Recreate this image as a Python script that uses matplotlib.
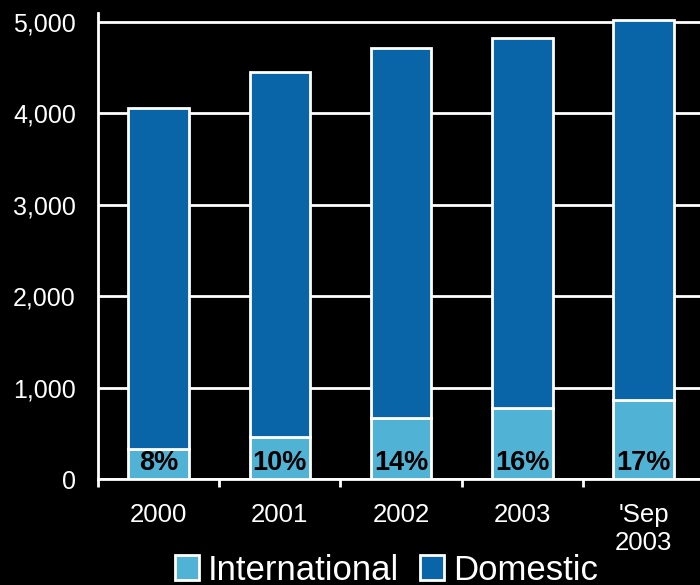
import matplotlib
matplotlib.use("Agg")
import matplotlib.pyplot as plt
import numpy as np

plt.rcParams['font.family'] = ['Liberation Sans', 'DejaVu Sans']

categories = ["2000", "2001", "2002", "2003", "'Sep\n2003"]
international = [327, 458, 666, 775, 862]
domestic = [3734, 3996, 4050, 4050, 4160]
share_labels = ["8%", "10%", "14%", "16%", "17%"]

DOM_COLOR = "#0A64A8"
INTL_COLOR = "#50B2D4"

fig = plt.figure(figsize=(7, 5.85), dpi=100, facecolor="black")
ax = fig.add_axes([0.14, 0.181, 0.866, 0.797], facecolor="black")

x = np.arange(len(categories))
ax.bar(x, international, width=0.5, color=INTL_COLOR, edgecolor="white",
       linewidth=2, label="International", zorder=3)
ax.bar(x, domestic, width=0.5, bottom=international, color=DOM_COLOR,
       edgecolor="white", linewidth=2, label="Domestic", zorder=3)

for xi, lab in zip(x, share_labels):
    ax.text(xi, 180, lab, ha="center", va="center", fontsize=19.5,
            fontweight="bold", color="black", zorder=4)

ax.set_xlim(-0.5, 4.5)
ax.set_ylim(0, 5100)
ax.set_yticks([0, 1000, 2000, 3000, 4000, 5000])
ax.set_yticklabels(["0", "1,000", "2,000", "3,000", "4,000", "5,000"])
ax.yaxis.grid(True, color="white", linewidth=2, zorder=1)
ax.set_axisbelow(True)

ax.set_xticks(x)
ax.set_xticklabels(categories, linespacing=1.25)
ax.set_xticks(np.arange(-0.5, 4.6, 1), minor=True)
ax.tick_params(axis="x", which="major", length=0, pad=17, labelsize=18.5,
               colors="white")
ax.tick_params(axis="x", which="minor", length=6, width=2, direction="out",
               color="white")
ax.tick_params(axis="y", length=0, pad=16, labelsize=18, colors="white")

for side in ["top", "right"]:
    ax.spines[side].set_visible(False)
for side in ["left", "bottom"]:
    ax.spines[side].set_color("white")
    ax.spines[side].set_linewidth(2)

leg = fig.legend(loc="lower center", bbox_to_anchor=(0.552, -0.056), ncol=2,
                 frameon=False, fontsize=25, handlelength=0.7,
                 handleheight=0.7, handletextpad=0.25, columnspacing=0.6,
                 labelcolor="white")

fig.savefig("out.png", dpi=100, facecolor="black")
